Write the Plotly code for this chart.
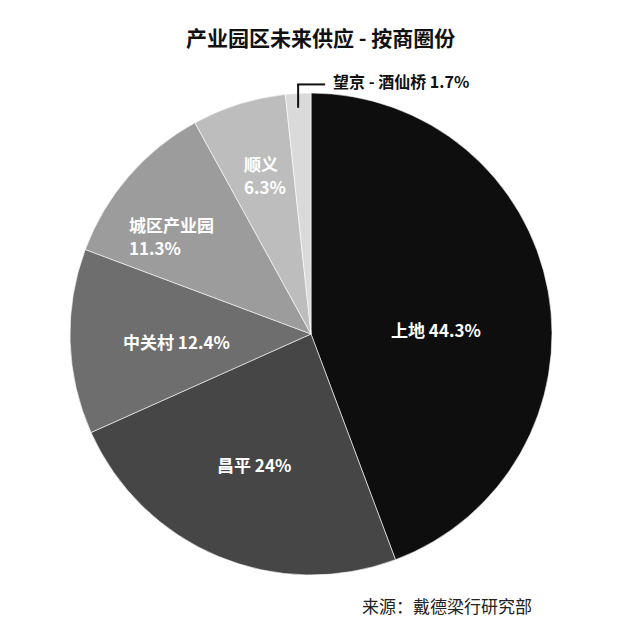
import math
import plotly.graph_objects as go

# ---- data ----
labels = ["上地", "昌平", "中关村", "城区产业园", "顺义", "望京 - 酒仙桥"]
values = [44.3, 24, 12.4, 11.3, 6.3, 1.7]
colors = ["#0e0e0e", "#464646", "#6e6e6e", "#9c9c9c", "#bdbdbd", "#dadada"]
title_text = "产业园区未来供应 - 按商圈份"
source_text = "来源：戴德梁行研究部"

# ---- label styling/positions (relative to each slice) ----
label_mode = ["one", "one", "one", "two", "two", "outside"]
label_rfrac = [0.52, 0.59, 0.56, 0.865, 0.72, None]
label_dang = [8, 1, -1.5, -12.9, -5.8, 0]

W = H = 640
OFF = 8            # page body margin in the browser
CX, CY = 311, 334  # pie centre in pixels (screen, from top-left)
R = 241

FONT = "Noto Sans CJK SC"


def to_paper(px, py):
    return (px - OFF) / W, 1 - (py - OFF) / H


dx0, dy1 = to_paper(CX - R, CY - R)
dx1, dy0 = to_paper(CX + R, CY + R)

fig = go.Figure(go.Pie(
    labels=labels, values=values, sort=False, direction="clockwise", rotation=0,
    marker=dict(colors=colors, line=dict(color="white", width=0.6)),
    textinfo="none", hoverinfo="label+percent", showlegend=False,
    domain=dict(x=[dx0, dx1], y=[dy0, dy1]),
))

annotations = []
shapes = []
total = sum(values)
cum = 0.0
lab_font = dict(family=FONT, size=17, color="white", weight="bold")
for i, (lab, v) in enumerate(zip(labels, values)):
    mid = (cum + v / 2) / total * 360.0
    cum += v
    pct = f"{v:g}%"
    if label_mode[i] == "outside":
        a = math.radians(mid)
        x0 = CX + R * math.sin(a)
        y_in = CY - 0.94 * R * math.cos(a)
        y_top = CY - 1.037 * R * math.cos(a)
        x1 = x0 + 27
        for (ax, ay, bx, by) in [(x0, y_in, x0, y_top), (x0 - 1, y_top, x1, y_top)]:
            p0 = to_paper(ax, ay)
            p1 = to_paper(bx, by)
            shapes.append(dict(type="line", xref="paper", yref="paper",
                               x0=p0[0], y0=p0[1], x1=p1[0], y1=p1[1],
                               line=dict(color="#111", width=2)))
        tx, ty = to_paper(x1 + 6, y_top - 3)
        annotations.append(dict(x=tx, y=ty, xref="paper", yref="paper",
                                text=f"{lab} {pct}", showarrow=False,
                                xanchor="left", yanchor="middle",
                                font=dict(family=FONT, size=16, color="#111", weight="bold")))
        continue
    a = math.radians(mid + label_dang[i])
    px = CX + label_rfrac[i] * R * math.sin(a)
    py = CY - label_rfrac[i] * R * math.cos(a)
    if label_mode[i] == "one":
        tx, ty = to_paper(px, py)
        annotations.append(dict(x=tx, y=ty, xref="paper", yref="paper",
                                text=f"{lab} {pct}", showarrow=False,
                                xanchor="center", yanchor="middle", font=lab_font))
    else:
        for line_text, ddy in [(lab, -11.5), (pct, 11.5)]:
            tx, ty = to_paper(px, py + ddy)
            annotations.append(dict(x=tx, y=ty, xref="paper", yref="paper",
                                    text=line_text, showarrow=False,
                                    xanchor="left", yanchor="middle", font=lab_font))

tx, ty = to_paper(320, 37)
annotations.append(dict(x=tx, y=ty, xref="paper", yref="paper",
                        text=title_text, showarrow=False, xanchor="center", yanchor="middle",
                        font=dict(family=FONT, size=21, color="#111", weight="bold")))
tx, ty = to_paper(360, 605)
annotations.append(dict(x=tx, y=ty, xref="paper", yref="paper",
                        text=source_text, showarrow=False, xanchor="left", yanchor="middle",
                        font=dict(family=FONT, size=17, color="#222")))

fig.update_layout(
    width=W, height=H, margin=dict(l=0, r=0, t=0, b=0),
    paper_bgcolor="white", plot_bgcolor="white",
    annotations=annotations, shapes=shapes,
)

fig.write_html("out.html")
